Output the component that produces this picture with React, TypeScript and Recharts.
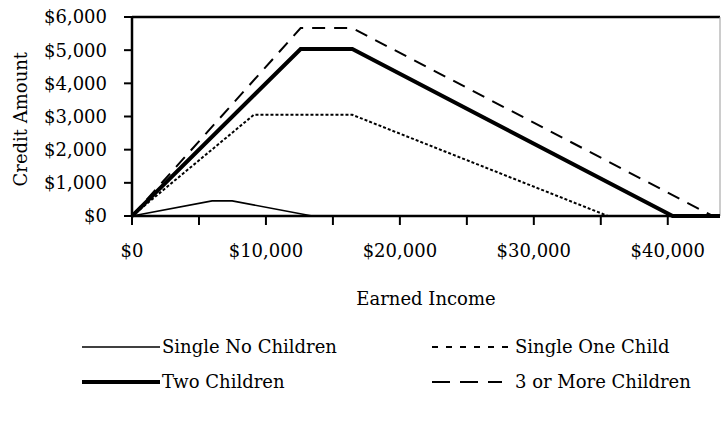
import React from "react";
import { LineChart, Line, XAxis, YAxis, ReferenceLine } from "recharts";

// earned income ($) / credit ($) break points for each filing group
const noChildIncome = [0, 5980, 7480, 13460, 43900];
const noChildCredit = [0, 457, 457, 0, 0];
const oneChildIncome = [0, 9090, 16450, 35535, 43900];
const oneChildCredit = [0, 3050, 3050, 0, 0];
const twoChildIncome = [0, 12590, 16450, 40363, 43900];
const twoChildCredit = [0, 5036, 5036, 0, 0];
const threeChildIncome = [0, 12590, 16450, 43352, 43900];
const threeChildCredit = [0, 5666, 5666, 0, 0];

const xTicks = [0, 5000, 10000, 15000, 20000, 25000, 30000, 35000, 40000];
const yTicks = [0, 1000, 2000, 3000, 4000, 5000, 6000];
const X_MAX = 43900;

const FONT = "'DejaVu Serif', serif";
const FS = 18;

const toPoints = (xs: number[], ys: number[]) => xs.map((x, i) => ({ income: x, credit: ys[i] }));

const series = [
  { name: "Single No Children", data: toPoints(noChildIncome, noChildCredit), width: 1.6, dash: undefined, legendDash: undefined },
  { name: "Single One Child", data: toPoints(oneChildIncome, oneChildCredit), width: 2, dash: "3 2", legendDash: "6 8" },
  { name: "Two Children", data: toPoints(twoChildIncome, twoChildCredit), width: 4, dash: undefined, legendDash: undefined },
  { name: "3 or More Children", data: toPoints(threeChildIncome, threeChildCredit), width: 2, dash: "13 9", legendDash: "18 10" },
];

const money = (v: number) => "$" + v.toLocaleString("en-US");

// legend drawn as a plain svg overlay: [series index, row y, line start, line end, text x]
const legendSlots: [number, number, number, number, number][] = [
  [0, 347, 82, 160, 162],
  [1, 347, 432, 512, 515],
  [2, 382, 82, 160, 162],
  [3, 382, 432, 502, 515],
];

const LegendBox = () => (
  <svg width={721} height={423} style={{ position: "absolute", left: 0, top: 0 }}>
    {legendSlots.map(([i, y, x1, x2, tx]) => {
      const s = series[i];
      return (
        <g key={s.name}>
          <line x1={x1} x2={x2} y1={y} y2={y} stroke="#000" strokeWidth={s.width} strokeDasharray={s.legendDash} />
          <text x={tx} y={y} dy="0.35em" fontSize={FS} fontFamily={FONT} fill="#000">
            {s.name}
          </text>
        </g>
      );
    })}
  </svg>
);

export default function App() {
  return (
    <div style={{ position: "absolute", left: 0, top: 0, width: 721, height: 423, background: "#fff" }}>
      <LineChart width={721} height={423} margin={{ top: 17, right: 1, bottom: 177, left: 0 }}>
        <XAxis
          dataKey="income"
          type="number"
          domain={[0, X_MAX]}
          ticks={xTicks}
          tickFormatter={(v: number) => (v % 10000 === 0 ? money(v) : "")}
          allowDataOverflow
          height={30}
          tickSize={9}
          tickMargin={19}
          tick={{ fill: "#000", fontSize: FS, fontFamily: FONT }}
          axisLine={{ stroke: "#000", strokeWidth: 2.5 }}
          tickLine={{ stroke: "#000", strokeWidth: 2 }}
          label={{ value: "Earned Income", position: "insideBottom", dy: 64, fill: "#000", fontSize: FS, fontFamily: FONT }}
        />
        <YAxis
          type="number"
          domain={[0, 6000]}
          ticks={yTicks}
          tickFormatter={money}
          width={132}
          tickSize={8}
          tickMargin={17}
          tick={{ fill: "#000", fontSize: FS, fontFamily: FONT }}
          axisLine={{ stroke: "#000", strokeWidth: 2.5 }}
          tickLine={{ stroke: "#000", strokeWidth: 2 }}
          label={{ value: "Credit Amount", angle: -90, position: "insideLeft", dx: 16, dy: 70, fill: "#000", fontSize: FS, fontFamily: FONT }}
        />
        <ReferenceLine y={6000} stroke="#000" strokeWidth={2.5} />
        <ReferenceLine x={X_MAX} stroke="#999" strokeWidth={1} />
        {series.map((s) => (
          <Line
            key={s.name}
            data={s.data}
            dataKey="credit"
            name={s.name}
            type="linear"
            stroke="#000"
            strokeWidth={s.width}
            strokeDasharray={s.dash}
            dot={false}
            activeDot={false}
            isAnimationActive={false}
          />
        ))}
      </LineChart>
      <LegendBox />
    </div>
  );
}
